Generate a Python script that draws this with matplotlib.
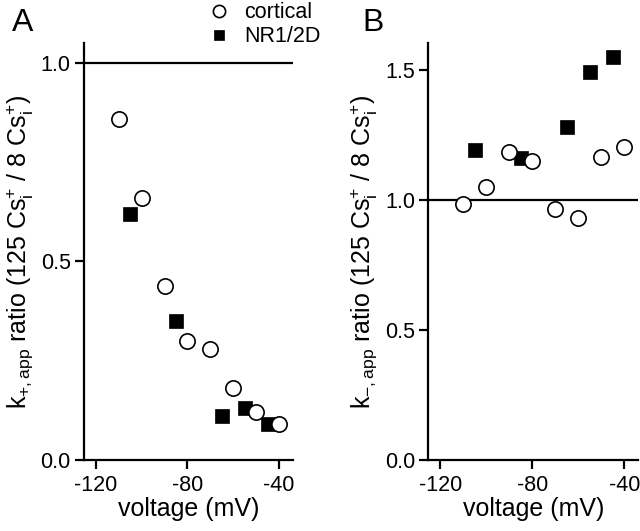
import matplotlib
matplotlib.use("Agg")
import matplotlib.pyplot as plt

plt.rcParams['font.family'] = ['Liberation Sans', 'DejaVu Sans']
plt.rcParams['mathtext.fontset'] = 'custom'
plt.rcParams['mathtext.rm'] = 'Liberation Sans'
plt.rcParams['mathtext.it'] = 'Liberation Sans:italic'
plt.rcParams['mathtext.sf'] = 'Liberation Sans'
plt.rcParams['axes.unicode_minus'] = False

# Panel A data
a_cort_v = [-110, -100, -90, -80, -70, -60, -50, -40]
a_cort_r = [0.858, 0.659, 0.439, 0.300, 0.280, 0.181, 0.120, 0.091]
a_nr_v = [-105, -85, -65, -55, -45]
a_nr_r = [0.619, 0.351, 0.112, 0.130, 0.091]

# Panel B data
b_cort_v = [-110, -100, -90, -80, -70, -60, -50, -40]
b_cort_r = [0.983, 1.051, 1.183, 1.151, 0.964, 0.932, 1.163, 1.203]
b_nr_v = [-105, -85, -65, -55, -45]
b_nr_r = [1.190, 1.160, 1.282, 1.491, 1.549]

xticks = [-120, -80, -40]
a_yticks = [0.0, 0.5, 1.0]
b_yticks = [0.0, 0.5, 1.0, 1.5]

fig = plt.figure(figsize=(6.4, 5.31), dpi=100)
axA = fig.add_axes([84/640, 1-460/531, 209/640, (460-43)/531])
axB = fig.add_axes([428.3/640, 1-460/531, 210/640, (460-43)/531])

def style(ax, ylim, yticks, ylabel):
    ax.set_xlim(-125.2, -33.9)
    ax.set_ylim(*ylim)
    ax.set_xticks(xticks)
    ax.set_xticklabels([str(t) for t in xticks])
    ax.set_yticks(yticks)
    ax.set_yticklabels([f"{t:.1f}" for t in yticks])
    for s in ['top', 'right']:
        ax.spines[s].set_visible(False)
    for s in ['left', 'bottom']:
        ax.spines[s].set_linewidth(1.6)
    ax.tick_params(direction='out', length=6.5, width=1.6, labelsize=15.5)
    ax.tick_params(axis='x', pad=4)
    ax.tick_params(axis='y', pad=3)
    ax.axhline(1.0, color='black', lw=1.6, zorder=1)
    ax.set_xlabel('voltage (mV)', fontsize=18, labelpad=1)
    ax.set_ylabel(ylabel, fontsize=18, labelpad=4)

circ_kw = dict(linestyle='none', marker='o', markersize=11, markerfacecolor='white',
               markeredgecolor='black', markeredgewidth=1.2, zorder=3)
sq_kw = dict(linestyle='none', marker='s', markersize=9.5, markerfacecolor='black',
             markeredgecolor='black', markeredgewidth=0.5, zorder=3)

axA.plot(a_nr_v, a_nr_r, label='NR1/2D', **sq_kw)
axA.plot(a_cort_v, a_cort_r, label='cortical', **circ_kw)
style(axA, (0, 1.05), a_yticks,
      r'k$_{+,\mathrm{app}}$ ratio (125 Cs$^{+}_{\mathrm{i}}$ / 8 Cs$^{+}_{\mathrm{i}}$)')

axB.plot(b_nr_v, b_nr_r, **sq_kw)
axB.plot(b_cort_v, b_cort_r, **circ_kw)
style(axB, (0, 1.603), b_yticks,
      r'k$_{-,\mathrm{app}}$ ratio (125 Cs$^{+}_{\mathrm{i}}$ / 8 Cs$^{+}_{\mathrm{i}}$)')

h, l = axA.get_legend_handles_labels()
fig.legend([h[1], h[0]], [l[1], l[0]], loc='upper left',
           bbox_to_anchor=(197/640, 1.012), frameon=False, fontsize=15.5,
           markerscale=0.8, handletextpad=0.6, labelspacing=0.15,
           handlelength=1.2, borderaxespad=0.0)

fig.text(12/640, 1-31/531, 'A', fontsize=23, va='baseline')
fig.text(362/640, 1-31/531, 'B', fontsize=23, va='baseline')

fig.savefig('out.png', dpi=100)
